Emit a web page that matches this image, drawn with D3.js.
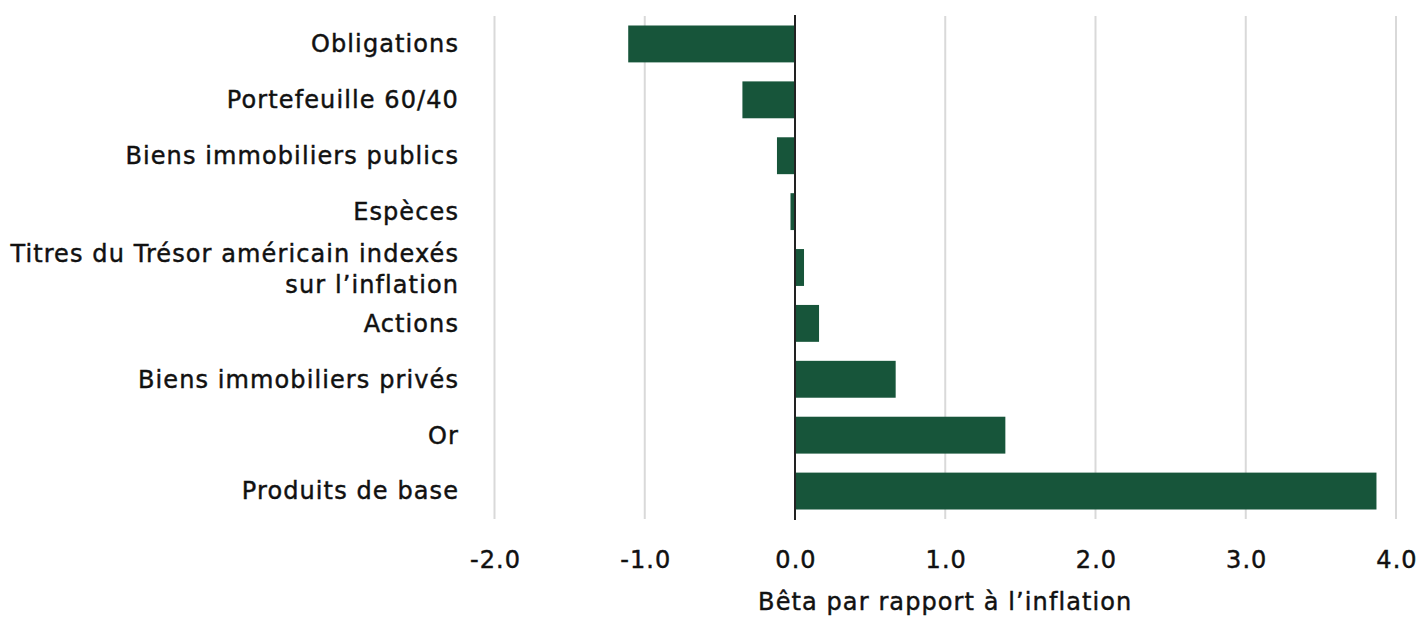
<!DOCTYPE html>
<html><head><meta charset="utf-8">
<script src="https://cdn.jsdelivr.net/npm/d3@7"></script>
<style>
html,body{margin:0;padding:0;background:#fff;}
svg text{font-family:"DejaVu Sans", sans-serif;font-weight:normal;fill:#111;stroke:#111;stroke-width:0.45px;letter-spacing:1.1px;}
</style></head>
<body><svg id="chart" width="1420" height="618"></svg>
<script>
const categories = ["Obligations","Portefeuille 60/40","Biens immobiliers publics","Espèces","Titres du Trésor américain indexés|sur l’inflation","Actions","Biens immobiliers privés","Or","Produits de base"];
const values = [-1.11,-0.35,-0.12,-0.03,0.06,0.16,0.67,1.40,3.87];
const tickValues = [-2,-1,0,1,2,3,4];
const axisTitle = "Bêta par rapport à l’inflation";

const svg = d3.select("#chart");
const x = d3.scaleLinear().domain([-2,4]).range([494.5,1396]);
const y = d3.scaleBand().domain(categories).range([16,519]).paddingInner(0.34).paddingOuter(0.17);

svg.append("g").selectAll("line").data(tickValues.filter(d=>d!==0)).join("line")
  .attr("x1",d=>x(d)).attr("x2",d=>x(d)).attr("y1",16).attr("y2",519)
  .attr("stroke","#d9d9d9").attr("stroke-width",2);

svg.append("g").selectAll("rect").data(categories).join("rect")
  .attr("x",(d,i)=>x(Math.min(0,values[i])))
  .attr("width",(d,i)=>Math.abs(x(values[i])-x(0)))
  .attr("y",d=>y(d)).attr("height",y.bandwidth())
  .attr("fill","#17553a");

svg.append("line").attr("x1",x(0)).attr("x2",x(0)).attr("y1",15).attr("y2",520)
  .attr("stroke","#222").attr("stroke-width",2);

const xAxis = d3.axisBottom(x).tickValues(tickValues).tickFormat(d=>d.toFixed(1)).tickSize(0).tickPadding(0);
const gx = svg.append("g").attr("transform","translate(0,560)").call(xAxis);
gx.select(".domain").remove();
gx.selectAll("text").attr("dy","0.35em").attr("dx","0.5px").style("font-size","24px").style("font-family","'DejaVu Sans', sans-serif").attr("fill","#111");

const gy = svg.append("g");
categories.forEach(c=>{
  const lines = c.split("|");
  const cy = y(c)+y.bandwidth()/2;
  const lh = 31;
  const t = gy.append("text").attr("text-anchor","end").attr("x",459)
    .style("font-size","24px");
  lines.forEach((l,j)=>{
    t.append("tspan").attr("x",459)
     .attr("y", cy + (j-(lines.length-1)/2)*lh + (lines.length>1?1.5:0))
     .attr("dy","0.35em").text(l);
  });
});

svg.append("text").attr("x",(x(0)+x(2))/2).attr("y",602).attr("dy","0.35em")
  .attr("text-anchor","middle").style("font-size","24px").text(axisTitle);
</script></body></html>
